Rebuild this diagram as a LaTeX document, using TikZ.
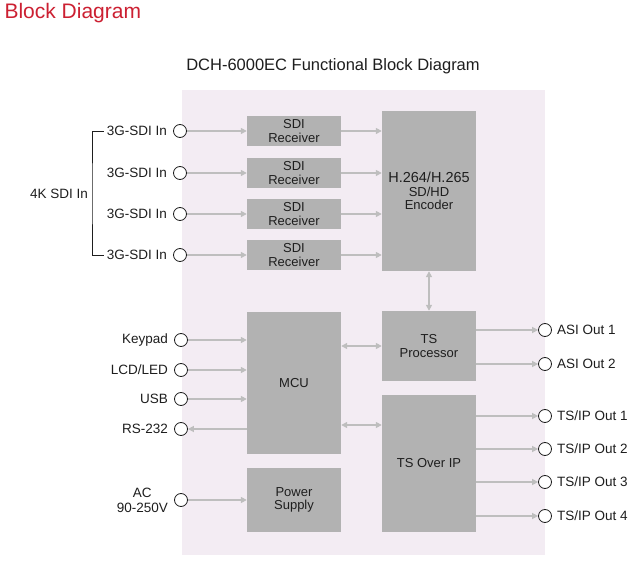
\documentclass[tikz,border=0pt]{standalone}
\usepackage{fontspec}
\setmainfont{Liberation Sans}
\usetikzlibrary{arrows.meta, positioning, calc}
\definecolor{bgPink}{RGB}{243, 236, 243}
\definecolor{boxGray}{RGB}{178, 178, 178}
\definecolor{lineGray}{RGB}{190, 190, 190}
\definecolor{titleRed}{RGB}{204, 32, 50}
\definecolor{textBlack}{RGB}{30, 30, 30}
\tikzset{
    block/.style={
        rectangle,
        fill=boxGray,
        draw=none,
        align=center,
        text=textBlack,
        font=\fontsize{13}{13.5}\selectfont,
        inner sep=0pt
    },
    port/.style={
        circle,
        draw=textBlack,
        fill=white,
        line width=0.8pt,
        minimum size=13pt,
        inner sep=0pt
    },
    portLabel/.style={
        text=textBlack,
        font=\fontsize{13.5}{15}\selectfont,
        inner sep=0pt
    },
    flow/.style={
        draw=lineGray,
        line width=1.6pt,
        -{Triangle[length=6pt,width=6pt]}
    },
    biflow/.style={
        flow,
        {Triangle[length=6pt,width=6pt]}-{Triangle[length=6pt,width=6pt]}
    }
}
\begin{document}
\begin{tikzpicture}[x=1pt, y=-1pt]
    \useasboundingbox (0,0) rectangle (635,561);
    \fill[white] (0,0) rectangle (635,561);
    \fill[bgPink] (182,90) rectangle (545,555);

    \node[anchor=west, text=titleRed, font=\fontsize{21}{22}\selectfont] (title) at (1,13) {Block Diagram};
    \node[text=textBlack, font=\fontsize{16.5}{18}\selectfont] (subtitle) at (333,66) {DCH-6000EC Functional Block Diagram};

    % Main blocks
    \node[block, minimum width=94pt, minimum height=160pt] (enc) at (429,191) {{\fontsize{14.5}{16}\selectfont H.264/H.265}\\SD/HD\\Encoder};
    \node[block, minimum width=94pt, minimum height=70pt] (tsp) at (429,346) {TS\\Processor};
    \node[block, minimum width=94pt, minimum height=137pt] (tsip) at (429,463.5) {TS Over IP};
    \node[block, minimum width=94pt, minimum height=142pt] (mcu) at (294,383) {MCU};
    \node[block, minimum width=94pt, minimum height=64pt] (psu) at (294,500) {Power\\Supply};

    % SDI inputs
    \foreach \i/\y in {1/131, 2/173, 3/214, 4/255} {
        \node[block, minimum width=94pt, minimum height=30pt] (rx\i) at (294,\y) {SDI\\Receiver};
        \node[port] (in\i) at (180,\y) {};
        \node[portLabel, anchor=east] (inl\i) at (167,\y) {3G-SDI In};
        \draw[flow] (in\i) -- (rx\i);
        \draw[flow] (rx\i.east) -- (enc.west |- rx\i.east);
    }
    \draw[textBlack, line width=0.8pt] ($(inl1.west)+(-3,0)$) -| (92,194) |- ($(inl4.west)+(-3,0)$);
    \node[portLabel, anchor=east] (k4) at (88,194) {4K SDI In};

    \draw[biflow] (enc) -- (tsp);
    \draw[biflow] (mcu.east |- tsp) -- (tsp);
    \draw[biflow] (mcu.east |- 0,425) -- (tsip.west |- 0,425);

    % MCU ports
    \foreach \n/\t/\y in {kp/Keypad/340, lcd/LCD\slash LED/370, usb/USB/399} {
        \node[port] (\n) at (181,\y) {};
        \node[portLabel, anchor=east] at (168,\y) {\t};
        \draw[flow] (\n) -- (mcu.west |- \n);
    }
    \node[port] (rs) at (181,429) {};
    \node[portLabel, anchor=east] at (168,429) {RS-232};
    \draw[flow] (mcu.west |- rs) -- (rs);

    \node[port] (ac) at (181,500) {};
    \node[portLabel, anchor=east, align=center] at (168,500) {AC\\90-250V};
    \draw[flow] (ac) -- (psu);

    % Outputs
    \foreach \n/\t/\y in {a1/ASI Out 1/330, a2/ASI Out 2/364} {
        \node[port] (\n) at (545,\y) {};
        \node[portLabel, anchor=west] at (557,\y) {\t};
        \draw[flow] (tsp.east |- \n) -- (\n);
    }
    \foreach \n/\t/\y in {o1/TS\slash IP Out 1/416, o2/TS\slash IP Out 2/449, o3/TS\slash IP Out 3/482, o4/TS\slash IP Out 4/516} {
        \node[port] (\n) at (545,\y) {};
        \node[portLabel, anchor=west] at (557,\y) {\t};
        \draw[flow] (tsip.east |- \n) -- (\n);
    }
\end{tikzpicture}
\end{document}
